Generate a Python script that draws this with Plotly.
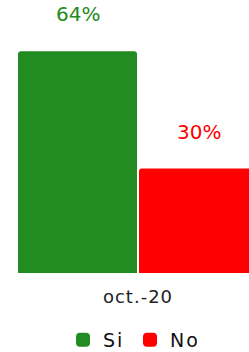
import plotly.graph_objects as go

categories = ["oct.-20"]
si_values = [64]
no_values = [30]
series_names = ["Si", "No"]
series_colors = ["#228B22", "#FF0000"]

fig = go.Figure()
series_values = [si_values, no_values]
for name, vals, col in zip(series_names, series_values, series_colors):
    fig.add_trace(go.Bar(x=categories, y=vals, name=name,
                         marker=dict(color=col, line=dict(width=2, color=col))))

annotations = []
n = len(series_names)
for j, (vals, col) in enumerate(zip(series_values, series_colors)):
    for i, v in enumerate(vals):
        annotations.append(dict(
            x=i - 0.5 + (j + 0.5) / n, y=v, xref="x", yref="y",
            text=f"{v}%", showarrow=False, yanchor="middle", yshift=38,
            font=dict(family="DejaVu Sans", size=20, color=col),
        ))

fig.update_layout(
    width=249, height=352,
    margin=dict(l=0, r=0, t=0, b=79),
    paper_bgcolor="white", plot_bgcolor="white",
    bargap=0, bargroupgap=4/121, barmode="group", barcornerradius=2,
    xaxis=dict(type="category", range=[-138/242, 111/242], showgrid=False, zeroline=False,
               showline=False, ticks="", ticklabelstandoff=11,
               tickfont=dict(family="DejaVu Sans", size=18, color="#222222")),
    yaxis=dict(range=[0, 272 / (220 / 64)], visible=False, showgrid=False, zeroline=False),
    showlegend=True,
    legend=dict(orientation="h", xanchor="center", x=130/249, yanchor="middle", yref="container",
                y=1 - 340/352, entrywidth=22, entrywidthmode="pixels",
                font=dict(family="DejaVu Sans", size=19, color="#111111")),
    annotations=annotations,
)

post = (
    "document.body.style.margin='0';document.body.style.overflow='hidden';"
    "var s=document.createElement('style');"
    "s.textContent='.xtick text{letter-spacing:1px}.legendtext{letter-spacing:2px}';"
    "document.head.appendChild(s);"
)
fig.write_html("out.html", post_script=post, config={"displayModeBar": False})
